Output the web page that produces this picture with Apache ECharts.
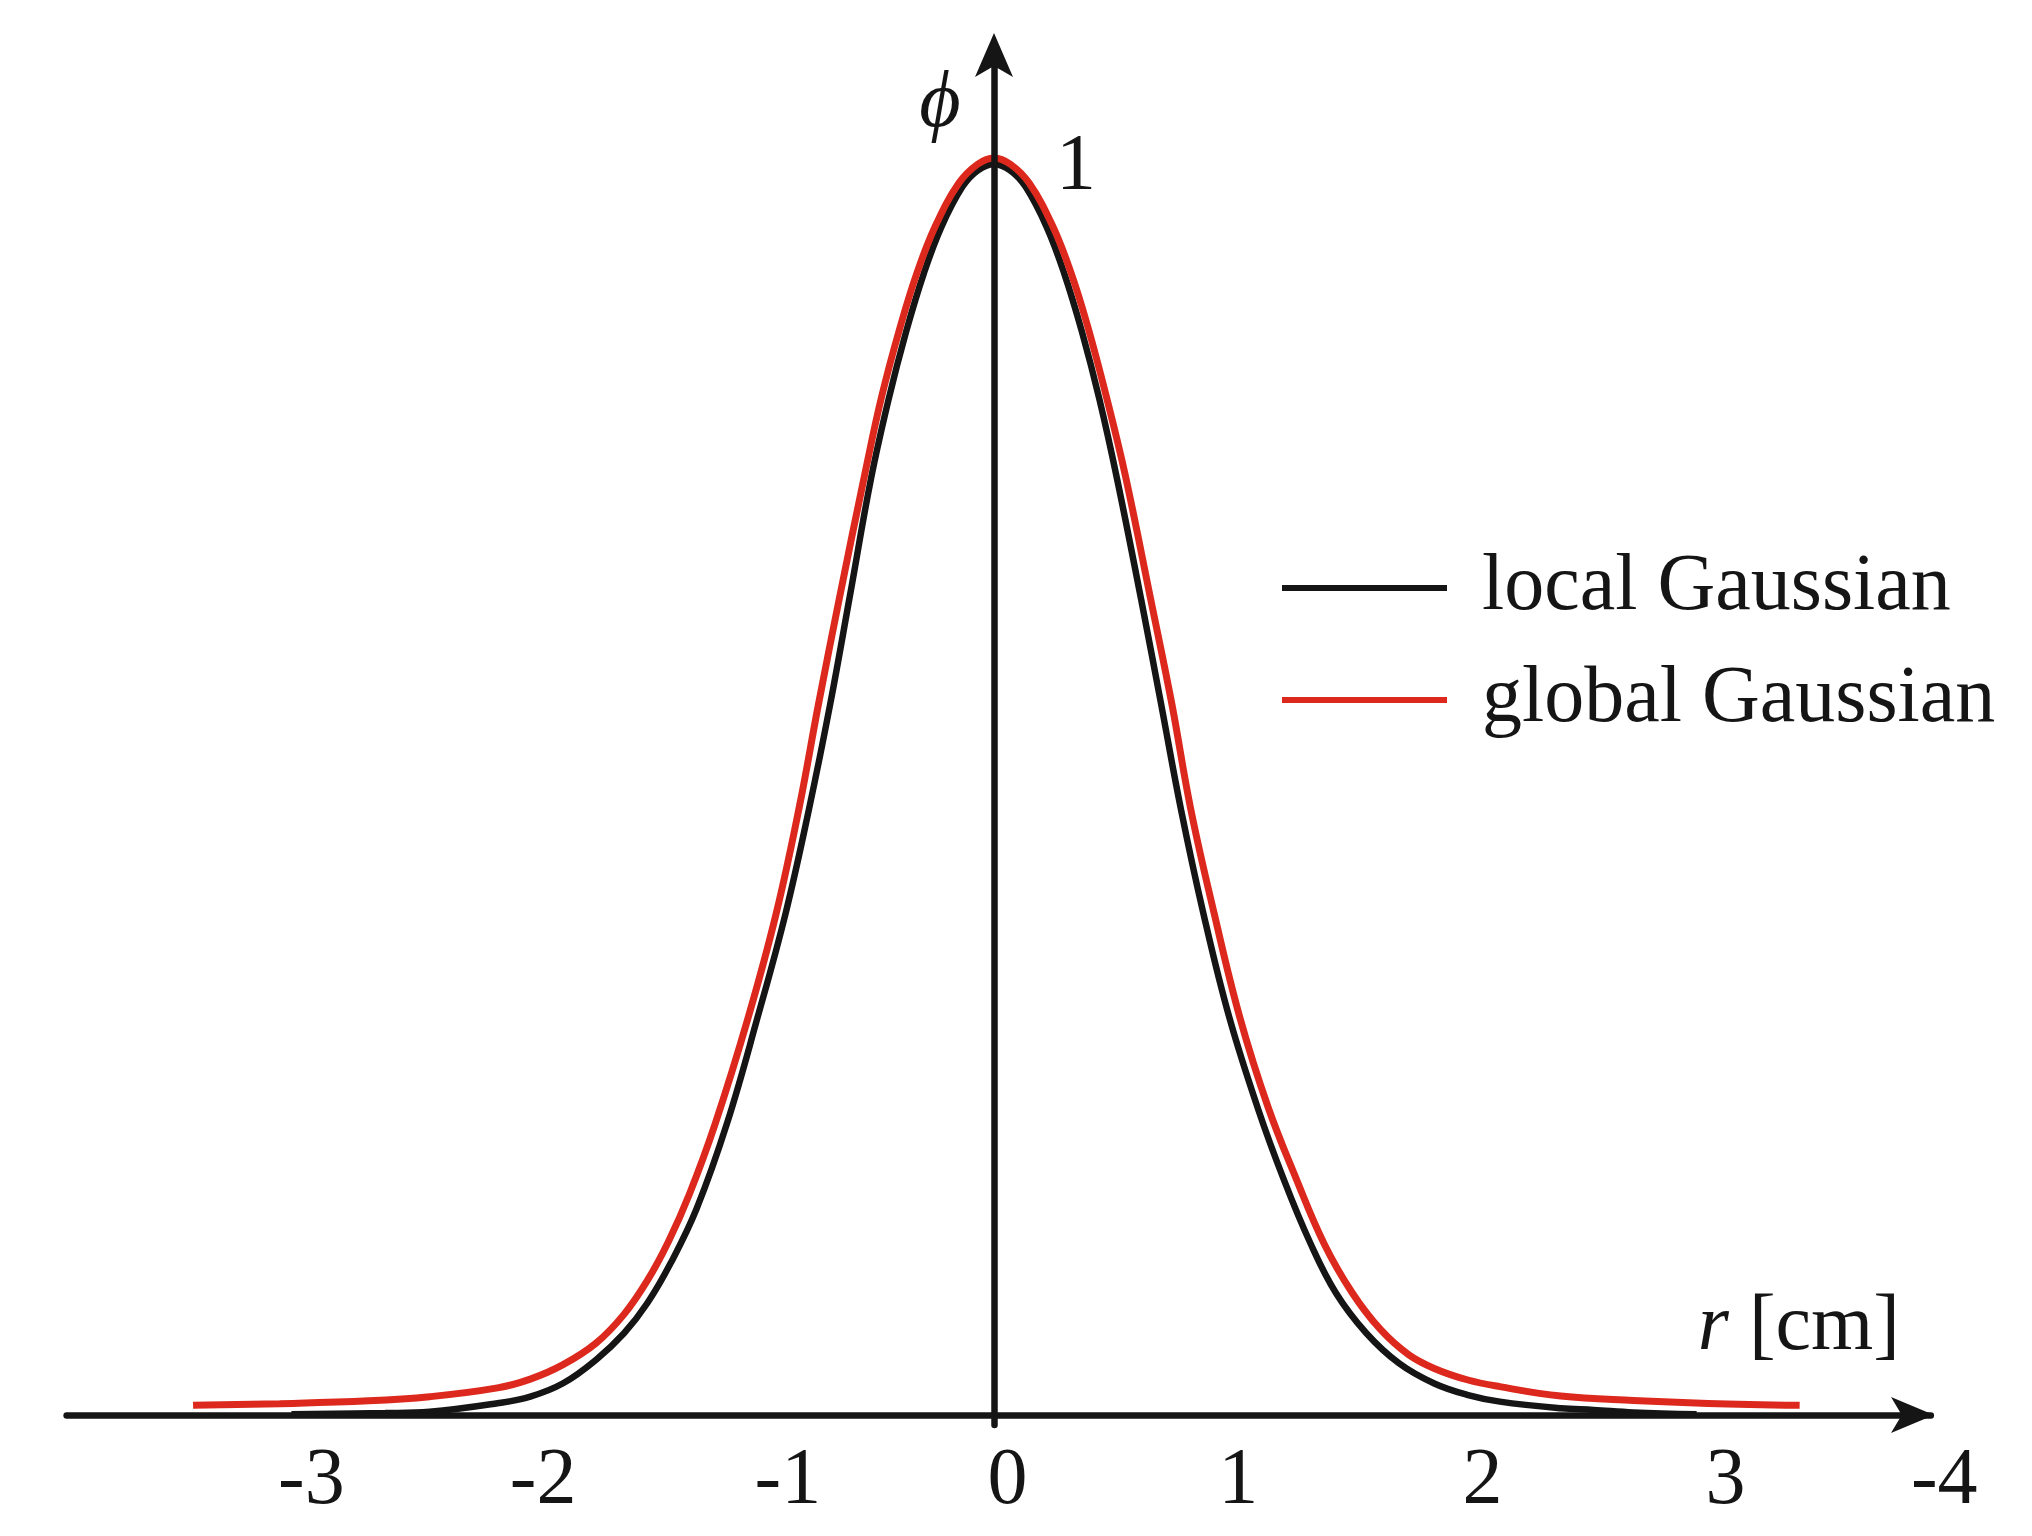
<!DOCTYPE html>
<html>
<head>
<meta charset="utf-8">
<script src="https://cdn.jsdelivr.net/npm/echarts@6/dist/echarts.min.js"></script>
<style>
html,body{margin:0;padding:0;background:#ffffff;}
#chart{width:2032px;height:1536px;}
</style>
</head>
<body>
<div id="chart"></div>
<script>
// ---- data ----
const seriesNames = ['local Gaussian', 'global Gaussian'];

const localR = [-3.0, -2.6, -2.41, -2.12, -1.98, -1.84, -1.70, -1.58, -1.48, -1.38, -1.27, -1.14, -1.01, -0.89, -0.79, -0.70, -0.615, -0.525, -0.45, -0.375, -0.30, -0.225, -0.135, -0.07, 0, 0.07, 0.135, 0.225, 0.30, 0.375, 0.45, 0.525, 0.629, 0.714, 0.798, 0.894, 1.005, 1.13, 1.24, 1.35, 1.46, 1.59, 1.73, 1.88, 2.02, 2.16, 2.42, 2.56, 2.73, 3.0];
const localPhi = [0.0005, 0.0015, 0.0026, 0.0093, 0.0146, 0.0252, 0.0438, 0.065, 0.089, 0.121, 0.164, 0.232, 0.316, 0.399, 0.482, 0.565, 0.652, 0.745, 0.808, 0.862, 0.908, 0.945, 0.977, 0.990, 0.995, 0.990, 0.977, 0.945, 0.908, 0.862, 0.808, 0.745, 0.648, 0.565, 0.482, 0.399, 0.316, 0.242, 0.186, 0.137, 0.097, 0.065, 0.041, 0.025, 0.016, 0.0106, 0.0053, 0.0040, 0.002, 0.0005];

const globalR = [-3.42, -3.05, -2.67, -2.41, -2.12, -1.98, -1.84, -1.70, -1.58, -1.48, -1.39, -1.30, -1.19, -1.05, -0.93, -0.83, -0.75, -0.66, -0.55, -0.48, -0.40, -0.33, -0.25, -0.15, -0.07, 0, 0.07, 0.15, 0.25, 0.33, 0.40, 0.48, 0.56, 0.67, 0.76, 0.84, 0.94, 1.05, 1.17, 1.29, 1.41, 1.53, 1.65, 1.77, 1.88, 2.02, 2.16, 2.42, 2.73, 3.05, 3.44];
const globalPhi = [0.0077, 0.0090, 0.0112, 0.0145, 0.0215, 0.0285, 0.040, 0.057, 0.080, 0.107, 0.138, 0.176, 0.232, 0.316, 0.399, 0.485, 0.565, 0.650, 0.750, 0.810, 0.866, 0.908, 0.946, 0.980, 0.995, 1.0, 0.995, 0.980, 0.946, 0.908, 0.866, 0.810, 0.748, 0.648, 0.565, 0.482, 0.399, 0.316, 0.245, 0.188, 0.136, 0.097, 0.068, 0.048, 0.037, 0.028, 0.0225, 0.0150, 0.0115, 0.0092, 0.0077];

const xTickValues = [-3, -2, -1, 0, 1, 2, 3, 4];
const xTickLabels = ['-3', '-2', '-1', '0', '1', '2', '3', '-4'];
const yTickValues = [1];
const yTickLabels = ['1'];

const xAxisName = '{i|r} [cm]';
const yAxisName = 'ϕ';

// ---- layout / style (not data) ----
const FONT = '"Liberation Serif", "Times New Roman", "DejaVu Serif", serif';
const INK = '#141514';
const RED = '#dd291d';
const GRID_LEFT = 66.6;
const Y_AXIS_X = 994;
// left padding of each x tick label (the original labels sit slightly right of their ticks)
const xLabelPadLeft = [40, 35, 56, 27, 20, 40, 58, 27];

function toPairs(xs, ys) { return xs.map(function (x, i) { return [x, ys[i]]; }); }

const xLabelRich = {};
xLabelPadLeft.forEach(function (p, i) {
  xLabelRich['t' + i] = { fontFamily: FONT, fontSize: 80, color: INK, lineHeight: 80, padding: [0, 0, 0, p] };
});

const chart = echarts.init(document.getElementById('chart'), null, { renderer: 'canvas' });

const option = {
  animation: false,
  backgroundColor: '#ffffff',
  grid: { left: GRID_LEFT, right: 101.2, top: 57.4, bottom: 111, containLabel: false, outerBoundsMode: 'none' },
  legend: {
    orient: 'vertical',
    left: 1282,
    top: 548,
    padding: 0,
    icon: 'rect',
    itemWidth: 165,
    itemHeight: 6,
    itemGap: 32,
    selectedMode: false,
    data: seriesNames,
    textStyle: { fontFamily: FONT, fontSize: 80, color: INK, lineHeight: 80, padding: [0, 0, 0, 30] }
  },
  xAxis: {
    type: 'value',
    min: -3.96,
    max: 4.0,
    z: 5,
    name: xAxisName,
    nameLocation: 'end',
    nameGap: -233,
    nameMoveOverlap: false,
    nameTextStyle: {
      fontFamily: FONT, fontSize: 80, color: INK, lineHeight: 80,
      verticalAlign: 'bottom', padding: [0, 0, 47, 0],
      rich: { i: { fontFamily: FONT, fontSize: 80, fontStyle: 'italic', color: INK, lineHeight: 80 } }
    },
    axisLine: {
      onZero: true,
      symbol: ['none', 'arrow'],
      symbolSize: [27, 43],
      symbolOffset: [0, 3.2],
      lineStyle: { color: INK, width: 6.5 }
    },
    axisTick: { show: false },
    splitLine: { show: false },
    axisLabel: {
      customValues: xTickValues,
      formatter: function (v) {
        const i = xTickValues.indexOf(Math.round(v));
        return i >= 0 ? '{t' + i + '|' + xTickLabels[i] + '}' : '';
      },
      fontFamily: FONT, fontSize: 80, color: INK, lineHeight: 80,
      margin: 17,
      rich: xLabelRich
    }
  },
  yAxis: {
    type: 'value',
    min: -0.008,
    max: 1.08,
    z: 5,
    offset: GRID_LEFT - Y_AXIS_X,
    name: yAxisName,
    nameLocation: 'end',
    nameGap: -88,
    nameMoveOverlap: false,
    nameTextStyle: { fontFamily: FONT, fontSize: 80, fontStyle: 'italic', color: INK, lineHeight: 80, padding: [0, 108, 0, 0] },
    axisLine: {
      onZero: false,
      symbol: ['none', 'arrow'],
      symbolSize: [28.5, 44],
      symbolOffset: [0, 24.4],
      lineStyle: { color: INK, width: 6.5 }
    },
    axisTick: { show: false },
    splitLine: { show: false },
    axisLabel: {
      customValues: yTickValues,
      formatter: function (v) { const i = yTickValues.indexOf(v); return i >= 0 ? yTickLabels[i] : ''; },
      inside: true,
      margin: 62,
      fontFamily: FONT, fontSize: 80, color: INK,
      verticalAlign: 'top',
      lineHeight: 20
    }
  },
  series: [
    {
      name: seriesNames[0],
      type: 'line',
      data: toPairs(localR, localPhi),
      symbol: 'none',
      showSymbol: false,
      smooth: 0.4,
      z: 2,
      lineStyle: { color: INK, width: 6.5 },
      itemStyle: { color: INK }
    },
    {
      name: seriesNames[1],
      type: 'line',
      data: toPairs(globalR, globalPhi),
      symbol: 'none',
      showSymbol: false,
      smooth: 0.4,
      z: 3,
      lineStyle: { color: RED, width: 7 },
      itemStyle: { color: RED }
    }
  ]
};

chart.setOption(option);
</script>
</body>
</html>
